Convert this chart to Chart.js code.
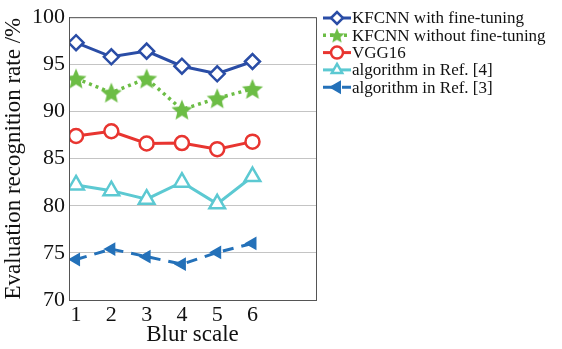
<!DOCTYPE html>
<html>
<head>
<meta charset="utf-8">
<script src="https://cdn.jsdelivr.net/npm/chart.js@4/dist/chart.umd.min.js"></script>
<style>
  html, body { margin: 0; padding: 0; background: #fff; }
  #wrap { width: 562px; height: 349px; position: relative; }
</style>
</head>
<body>
<div id="wrap"><canvas id="blurChart"></canvas></div>
<script>
// Chart data
const blurScales = [1, 2, 3, 4, 5, 6];
const yTicks = [70, 75, 80, 85, 90, 95, 100];
const seriesNames = [
    'KFCNN with fine-tuning',
    'KFCNN without fine-tuning',
    'VGG16',
    'algorithm in Ref. [4]',
    'algorithm in Ref. [3]'
];
const kfcnnFine = [97.3, 95.8, 96.4, 94.8, 94.0, 95.3];
const kfcnnNoFine = [93.5, 92.0, 93.5, 90.2, 91.4, 92.4];
const vgg16 = [87.4, 87.9, 86.6, 86.65, 86.0, 86.8];
const ref4 = [82.2, 81.6, 80.7, 82.5, 80.2, 83.1];
const ref3 = [74.3, 75.4, 74.6, 73.8, 75.05, 76.0];

const FONT = "'Liberation Serif', 'DejaVu Serif', serif";

// filled star marker
function makeStar(color, r) {
    const c = document.createElement('canvas');
    const s = Math.ceil(r * 2 + 2);
    c.width = s; c.height = s;
    const g = c.getContext('2d');
    g.beginPath();
    for (let i = 0; i < 10; i++) {
        const rad = i % 2 === 0 ? r : r * 0.45;
        const a = -Math.PI / 2 + i * Math.PI / 5;
        const px = s / 2 + rad * Math.cos(a);
        const py = s / 2 + rad * Math.sin(a) + r * 0.1;
        if (i === 0) g.moveTo(px, py); else g.lineTo(px, py);
    }
    g.closePath();
    g.fillStyle = color;
    g.fill();
    return c;
}
const starImg = makeStar('#6cbd45', 11);
const starSmall = makeStar('#6cbd45', 8);

function pts(arr) {
    return arr.map((v, i) => ({ x: blurScales[i], y: v }));
}

const datasets = [
    {
        label: seriesNames[0], data: pts(kfcnnFine),
        borderColor: '#2a4da6', backgroundColor: '#ffffff',
        borderWidth: 3, pointStyle: 'rectRot', pointRadius: 7.5,
        pointBorderWidth: 2.5, pointBackgroundColor: '#ffffff'
    },
    {
        label: seriesNames[1], data: pts(kfcnnNoFine),
        borderColor: '#6cbd45', backgroundColor: '#6cbd45',
        borderWidth: 3.5, borderDash: [3, 4], pointStyle: starImg,
        pointRadius: 11, legendStyle: starSmall
    },
    {
        label: seriesNames[2], data: pts(vgg16),
        borderColor: '#e83530', backgroundColor: '#ffffff',
        borderWidth: 3, pointStyle: 'circle', pointRadius: 7,
        pointBorderWidth: 2.5, pointBackgroundColor: '#ffffff'
    },
    {
        label: seriesNames[3], data: pts(ref4),
        borderColor: '#5cc9d2', backgroundColor: '#ffffff',
        borderWidth: 3, pointStyle: 'triangle', pointRadius: 9,
        pointBorderWidth: 2.5, pointBackgroundColor: '#ffffff'
    },
    {
        label: seriesNames[4], data: pts(ref3),
        borderColor: '#2471b9', backgroundColor: '#2471b9',
        borderWidth: 3, borderDash: [11, 8], pointStyle: 'triangle',
        pointRotation: -90, pointRadius: 6, pointBorderWidth: 2,
        pointBackgroundColor: '#2471b9'
    }
];

// frame around plot + legend on the right
const framePlugin = {
    id: 'frame',
    afterDraw(chart) {
        const ctx = chart.ctx;
        const a = chart.chartArea;
        ctx.save();
        ctx.strokeStyle = '#555';
        ctx.lineWidth = 1;
        ctx.strokeRect(a.left + 0.5, a.top + 0.5, a.right - a.left, a.bottom - a.top);

        // legend
        const lx = 323, ly = 18, gap = 17.3, len = 28;
        ctx.font = "17px " + FONT;
        ctx.textBaseline = 'middle';
        chart.data.datasets.forEach((ds, i) => {
            const y = ly + i * gap;
            ctx.strokeStyle = ds.borderColor;
            ctx.lineWidth = ds.borderWidth;
            ctx.setLineDash(ds.borderDash || []);
            ctx.beginPath();
            ctx.moveTo(lx, y);
            ctx.lineTo(lx + len, y);
            ctx.stroke();
            ctx.setLineDash([]);
            const opts = chart.getDatasetMeta(i).data[0].options;
            ctx.strokeStyle = opts.borderColor;
            ctx.fillStyle = opts.backgroundColor;
            ctx.lineWidth = opts.borderWidth;
            Chart.helpers.drawPoint(ctx, {
                pointStyle: ds.legendStyle || opts.pointStyle,
                rotation: opts.rotation,
                borderWidth: opts.borderWidth,
                radius: Math.min(opts.radius, 6)
            }, lx + len / 2, y);
            ctx.fillStyle = '#111';
            ctx.fillText(ds.label, lx + len + 1, y + 1);
        });
        ctx.restore();
    }
};

document.addEventListener('DOMContentLoaded', function() {
    const ctx = document.getElementById('blurChart').getContext('2d');
    new Chart(ctx, {
        type: 'line',
        data: { datasets: datasets },
        options: {
            responsive: true,
            maintainAspectRatio: false,
            animation: false,
            layout: { padding: { left: 0, right: 246, top: 11, bottom: 0 } },
            plugins: {
                legend: { display: false },
                tooltip: { enabled: false }
            },
            scales: {
                x: {
                    type: 'linear',
                    min: 0.8,
                    max: 7.8,
                    afterBuildTicks: scale => {
                        scale.ticks = blurScales.map(v => ({ value: v }));
                    },
                    afterFit: scale => { scale.height = 49; },
                    grid: { display: false, drawTicks: false },
                    border: { display: true, color: '#555' },
                    ticks: {
                        color: '#111', padding: 2,
                        font: { family: FONT, size: 22 },
                        maxRotation: 0
                    },
                    title: {
                        display: true, text: 'Blur scale', color: '#111',
                        font: { family: FONT, size: 23 }, padding: { top: -6, bottom: 0 }
                    }
                },
                y: {
                    min: 70,
                    max: 100,
                    afterBuildTicks: scale => {
                        scale.ticks = yTicks.map(v => ({ value: v }));
                    },
                    afterFit: scale => { scale.width = 69; },
                    grid: { color: '#c4c4c4', lineWidth: 1, drawTicks: false },
                    border: { display: true, color: '#555' },
                    ticks: {
                        color: '#111', padding: 4,
                        font: { family: FONT, size: 22 }
                    },
                    title: {
                        display: true, text: 'Evaluation recognition rate /%', color: '#111',
                        font: { family: FONT, size: 23 }, padding: { top: 0, bottom: 0 }
                    }
                }
            }
        },
        plugins: [framePlugin]
    });
});
</script>
</body>
</html>
